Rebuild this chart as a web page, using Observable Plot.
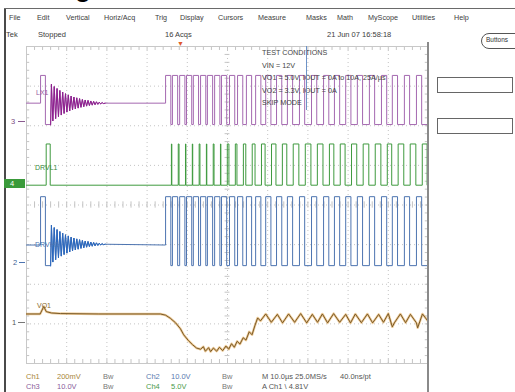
<!DOCTYPE html>
<html><head><meta charset="utf-8">
<script src="https://cdn.jsdelivr.net/npm/d3@7"></script>
<script src="https://cdn.jsdelivr.net/npm/@observablehq/plot@0.6"></script>
<style>
body{margin:0;background:#fff;}
#wrap{position:relative;width:515px;height:392px;overflow:hidden;font-family:"Liberation Sans",Arial,sans-serif;}
#wrap svg{position:absolute;left:0;top:0;}
.t{position:absolute;font-size:7.5px;color:#3c3c3c;white-space:nowrap;line-height:1;}
.box{position:absolute;border:1px solid #666;background:#fff;}
</style></head><body><div id="wrap"></div>
<script>
// ---------- data (time in µs, 10 µs/div; voltages per channel) ----------
// Ch3 LX1 (10 V/div), Ch2 DH1 (10 V/div), Ch4 DL1 (5 V/div), Ch1 VOUT1 ripple (200 mV/div)
const lxPreT = [0, 3.5, 3.5, 4.7, 4.7, 6.0];
const lxPreV = [5, 5, 12, 12, -0.5, -0.5];
const ringT = [6.20,6.55,6.90,7.25,7.60,7.95,8.30,8.65,9.00,9.35,9.70,10.05,10.40,10.75,11.10,11.45,11.80,12.15,12.50,12.85,13.20,13.55,13.90,14.25,14.60,14.95,15.30,15.65,16.00,16.35,16.70,17.05,17.40,17.75,18.10,18.45,18.80,19.15,19.6];
const ringV = [9.8,0.5,9.2,1.1,8.7,1.6,8.2,2.0,7.8,2.4,7.4,2.75,7.1,3.05,6.8,3.3,6.55,3.55,6.35,3.75,6.15,3.95,5.95,4.1,5.8,4.25,5.7,4.4,5.55,4.5,5.45,4.6,5.35,4.7,5.25,4.8,5.15,4.9,5.0];
const lxRise = [34.6,36.3,38.1,39.8,41.5,43.3,45.0,46.8,48.5,50.5,52.5,54.7,57.0,59.5,62.2,64.9,67.9,70.9,73.9,76.6,79.4,82.3,85.3,88.3,91.0,94.0,97.0,99.8];
const lxFall = [35.9,37.6,39.4,41.1,42.8,44.6,46.3,48.1,49.8,51.8,53.8,56.0,58.3,60.8,63.5,66.2,69.2,72.2,75.2,77.9,80.7,83.6,86.6,89.6,92.3,95.3,98.3];
const dlPulseT = [4.9, 5.9];
const vo1T = [0,3.4,4.3,4.9,6.2,8.5,18,33.3,34.6,35.8,37.1,38.3,39.1,40.3,41.3,42.3,43.3,44.0,44.5,45.3,45.8,46.5,47.3,48.0,48.8,49.6,50.3,51.0,51.7,52.4,53.1,53.9,54.6,55.4,56.1,56.8,57.5,58.2,59.5,60.9,62.4,63.7,65.2,66.7,68.2,69.7,71.1,72.4,73.6,74.9,76.4,77.9,79.4,80.6,81.8,83.3,84.8,86.1,87.6,88.8,90.0,91.0,91.5,93.0,94.3,95.5,97.0,97.3,98.5,100];
const vo1mV = [50,50,88,62,55,52,50,50,44,28,5,-25,-55,-85,-105,-122,-128,-115,-138,-120,-140,-122,-138,-118,-135,-112,-128,-100,-118,-88,-102,-70,-82,-40,-55,-10,30,15,50,8,48,5,50,8,52,5,48,8,50,5,52,8,48,5,50,6,50,5,48,8,52,-15,5,50,6,48,5,-20,50,10];

// channel settings: volts/div and ground marker (div)
const chScale = {ch1: 0.2, ch2: 10, ch3: 10, ch4: 5};
const chOffset = {ch1: -3.0, ch2: -1.49, ch3: 2.07, ch4: 0.5};

// ---------- build series ----------
function buildSwitch(high, low, rest) {
  const p = [];
  lxPreT.forEach((t, i) => p.push([t, lxPreV[i] === 12 ? high : (lxPreV[i] < 0 ? low : rest)]));
  ringT.forEach((t, i) => p.push([t, ringV[i]]));
  p.push([lxRise[0], rest]);
  lxRise.forEach((r, i) => {
    p.push([r, high]);
    if (i < lxFall.length) {
      p.push([lxFall[i], high], [lxFall[i], low], [lxRise[i + 1], low]);
    } else p.push([100, high]);
  });
  return p;
}
const ringPts = [[lxPreT[5], -0.5]].concat(ringT.map((t, i) => [t, ringV[i]]));
const toDiv = (ch, pts) => pts.map(([t, v]) => ({t, y: chOffset[ch] + v / chScale[ch]}));
const lx = toDiv("ch3", buildSwitch(12, -0.4, 5));
const dh = toDiv("ch2", buildSwitch(17, -0.4, 4.8));
const lxRing = toDiv("ch3", ringPts);
const dhRing = toDiv("ch2", ringPts);
const dlPts = [[0, 0], [dlPulseT[0], 0], [dlPulseT[0], 5.2], [dlPulseT[1], 5.2], [dlPulseT[1], 0]];
lxFall.forEach((f, i) => {
  const a = f + 0.15, b = lxRise[i + 1] - 0.15;
  dlPts.push([a, 0], [a, 5.2], [b, 5.2], [b, 0]);
});
dlPts.push([100, 0]);
const dl = toDiv("ch4", dlPts);
const vo = toDiv("ch1", vo1T.map((t, i) => [t, vo1mV[i] / 1000]));

// ---------- graticule ----------
const divX = d3.range(0, 101, 10), divY = d3.range(-4, 5, 1);
const minX = d3.range(0, 100.1, 2), minY = d3.range(-4, 4.01, 0.2);
const grid = "#c4c4c4";

const plot = Plot.plot({
  width: 515, height: 392,
  marginLeft: 26, marginRight: 87, marginTop: 46, marginBottom: 29,
  x: {domain: [0, 100], axis: null},
  y: {domain: [-4, 4], axis: null},
  style: {background: "transparent"},
  marks: [
    Plot.ruleX(divX, {stroke: grid, strokeDasharray: "1,3"}),
    Plot.ruleY(divY, {stroke: grid, strokeDasharray: "1,3"}),
    Plot.ruleX(minX, {x: d => d, y1: -0.08, y2: 0.08, stroke: grid}),
    Plot.ruleY(minY, {y: d => d, x1: 49.4, x2: 50.6, stroke: grid}),
    Plot.ruleX(minX, {x: d => d, y1: 4, y2: 3.9, stroke: grid}),
    Plot.ruleX(minX, {x: d => d, y1: -4, y2: -3.9, stroke: grid}),
    Plot.ruleY(minY, {y: d => d, x1: 0, x2: 0.8, stroke: grid}),
    Plot.ruleY(minY, {y: d => d, x1: 99.2, x2: 100, stroke: grid}),
    Plot.frame({stroke: "#c8c8c8"}),
    Plot.line(lx, {x: "t", y: "y", stroke: "#a468b0", strokeWidth: 1, clip: true}),
    Plot.line(lxRing, {x: "t", y: "y", stroke: "#8e1f8e", strokeWidth: 1, clip: true}),
    Plot.line(dl, {x: "t", y: "y", stroke: "#3f9a3f", strokeWidth: 1, clip: true}),
    Plot.line(dh, {x: "t", y: "y", stroke: "#4d74b0", strokeWidth: 1, clip: true}),
    Plot.line(dhRing, {x: "t", y: "y", stroke: "#2a68bf", strokeWidth: 1, clip: true}),
    Plot.line(vo, {x: "t", y: "y", stroke: "#e0a550", strokeWidth: 2.4, strokeOpacity: 0.6, clip: true}),
    Plot.line(vo, {x: "t", y: "y", stroke: "#7a5a28", strokeWidth: 1, clip: true})
  ]
});
const wrap = document.getElementById("wrap");
wrap.appendChild(plot);

// ---------- screen chrome (text / boxes) ----------
function txt(s, x, y, color, size, extra) {
  const d = document.createElement("div");
  d.className = "t"; d.textContent = s;
  d.style.left = x + "px"; d.style.top = y + "px";
  if (color) d.style.color = color;
  if (size) d.style.fontSize = size + "px";
  if (extra) Object.assign(d.style, extra);
  wrap.appendChild(d); return d;
}
function rect(x, y, w, h, style) {
  const d = document.createElement("div");
  d.className = "box";
  Object.assign(d.style, {left: x + "px", top: y + "px", width: w + "px", height: h + "px"}, style || {});
  wrap.appendChild(d); return d;
}
// frame lines
rect(4, 8, 2, 384, {border: "none", background: "#4a4a4a"});
rect(4, 8, 511, 1, {border: "none", background: "#6a6a6a"});
rect(427, 42, 2, 350, {border: "none", background: "#8a8a8a"});
// cropped heading: only the descender of its "g" shows in the reference
txt("g", 75, -25, "#000", 26, {fontWeight: "bold"});

const menu = ["File","Edit","Vertical","Horiz/Acq","Trig","Display","Cursors","Measure","Masks","Math","MyScope","Utilities","Help"];
const menuX = [9,37,66,104,155,180,218,258,306,337,368,412,454];
menu.forEach((m, i) => txt(m, menuX[i], 14, "#3c3c3c", 7.2));
txt("Tek", 6, 31); txt("Stopped", 38, 31); txt("16 Acqs", 165, 31); txt("21 Jun 07 16:58:18", 327, 31);

rect(481, 33, 40, 14, {borderRadius: "8px", border: "1px solid #555"});
txt("Buttons", 486, 37, "#333", 6.5);
rect(437, 77, 74, 14);
rect(437, 118, 74, 14);

// test conditions
const cond = ["TEST CONDITIONS", "VIN = 12V", "VO1 = 5.0V, IOUT = 0A to 10A, 25A/µs", "VO2 = 3.3V, IOUT = 0A", "SKIP MODE"];
cond.forEach((c, i) => txt(c, 262, 49 + i * 12.5, "#444", 7.2));
rect(306, 46, 1, 64, {border: "none", background: "#6d93c8"});
// trigger marker
txt("▼", 177, 40, "#e05a2a", 7);

// channel markers
txt("3", 11, 118, "#7a4a80", 7.5); rect(18, 121, 7, 1, {border: "none", background: "#8a5a90"});
rect(4, 179, 21, 9, {border: "none", background: "#3a9a3a"});
txt("4", 10, 180, "#fff", 7.5);
txt("2", 13, 259, "#3d5f94", 7.5); rect(19, 262, 6, 1, {border: "none", background: "#4d74b0"});
txt("1", 12, 319, "#555", 7.5); rect(18, 322, 7, 1, {border: "none", background: "#777"});

// trace labels
txt("LX1", 36, 89, "#9a5aa0", 7);
txt("DRVL1", 35, 164, "#3a8a3a", 7);
txt("DRVH1", 35, 241, "#4d74b0", 7);
txt("VO1", 37, 302, "#8a6a2e", 7);

// readouts
const r1 = [["Ch1", 26, "#a8863a"], ["200mV", 57, "#a8863a"], ["Bw", 103, "#777"], ["Ch2", 146, "#5a7ab0"], ["10.0V", 171, "#5a7ab0"], ["Bw", 222, "#777"], ["M 10.0µs 25.0MS/s", 262, "#555"], ["40.0ns/pt", 340, "#555"]];
const r2 = [["Ch3", 26, "#8a5a9a"], ["10.0V", 57, "#8a5a9a"], ["Bw", 103, "#777"], ["Ch4", 146, "#4a9a4a"], ["5.0V", 171, "#4a9a4a"], ["Bw", 222, "#777"], ["A  Ch1  \\  4.81V", 262, "#555"]];
r1.forEach(([s, x, c]) => txt(s, x, 373, c));
r2.forEach(([s, x, c]) => txt(s, x, 383, c));
</script></body></html>
